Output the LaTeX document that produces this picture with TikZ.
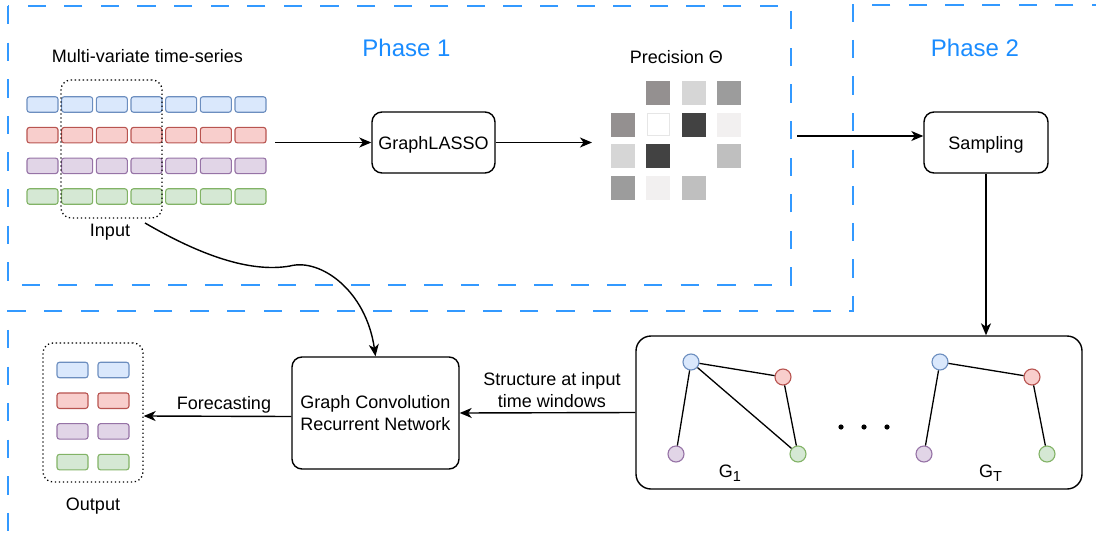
\documentclass[tikz,border=0pt]{standalone}
\usepackage{fontspec}
\setmainfont{Liberation Sans}
\usetikzlibrary{arrows.meta}
\definecolor{bfill}{HTML}{DAE8FC}\definecolor{bline}{HTML}{6C8EBF}
\definecolor{rfill}{HTML}{F8CECC}\definecolor{rline}{HTML}{B85450}
\definecolor{pfill}{HTML}{E1D5E7}\definecolor{pline}{HTML}{9673A6}
\definecolor{gfill}{HTML}{D5E8D4}\definecolor{gline}{HTML}{82B366}
\definecolor{phaseblue}{HTML}{3399FF}
\definecolor{phasetext}{HTML}{1A8CFF}
\definecolor{sqA}{HTML}{949090}
\definecolor{sqB}{HTML}{D6D6D6}
\definecolor{sqC}{HTML}{9C9C9C}
\definecolor{sqD}{HTML}{424242}
\definecolor{sqE}{HTML}{F2F0F0}
\definecolor{sqF}{HTML}{BFBFBF}
\definecolor{sqW}{HTML}{E6E6E6}
\newcommand{\mysub}[1]{\raisebox{-4.4pt}{\fontsize{14.5}{14.5}\selectfont #1}}
\begin{document}
\begin{tikzpicture}[x=1pt,y=-1pt,
  font=\fontsize{18}{22}\selectfont,
  cell/.style={draw, rounded corners=2.5, minimum width=31, minimum height=15.5, inner sep=0, line width=1.1},
  cB/.style={cell, fill=bfill, draw=bline},
  cR/.style={cell, fill=rfill, draw=rline},
  cP/.style={cell, fill=pfill, draw=pline},
  cG/.style={cell, fill=gfill, draw=gline},
  gn/.style={circle, minimum size=16, inner sep=0, line width=1.1},
  gB/.style={gn, fill=bfill, draw=bline},
  gR/.style={gn, fill=rfill, draw=rline},
  gP/.style={gn, fill=pfill, draw=pline},
  gG/.style={gn, fill=gfill, draw=gline},
  dotbox/.style={draw, dash pattern=on 1.3pt off 2.7pt, rounded corners=10, line width=1.3, inner sep=0},
  box/.style={draw, rounded corners=10, line width=1.4, align=center, inner sep=0},
  sq/.style={minimum size=24, inner sep=0, outer sep=0},
  arr/.style={line width=1.4, -{Stealth[length=12pt, width=10pt, inset=3.5pt]}},
  edge/.style={line width=1.3},
  phaseline/.style={draw=phaseblue, line width=2, dash pattern=on 18.3pt off 18.3pt},
  phase/.style={text=phasetext, font=\fontsize{24}{28}\selectfont, anchor=base, inner sep=0},
  lbl/.style={anchor=base, inner sep=0}
]
\useasboundingbox (0,0) rectangle (1096,541);

% phase regions
\draw[phaseline] (8,6) rectangle (791,285);
\draw[phaseline] (1110,4.5) -- (852.5,4.5) -- (852.5,311) -- (8,311) -- (8,550);
\node[phase] (ph1) at (406.5,56.7) {Phase 1};
\node[phase] (ph2) at (975,56.7) {Phase 2};

% input time series
\node[lbl] (tslabel) at (147.5,62.5) {Multi-variate time-series};
\foreach \r/\s in {0/cB,1/cR,2/cP,3/cG}{
  \foreach \i in {0,...,6}{
    \node[\s] (t\r\i) at ({42.5+34.67*\i},{104.5+30.67*\r}) {};
  }
}
\node[dotbox, minimum width=101, minimum height=138] (inbox) at (111.5,149) {};
\node[lbl] (inlabel) at (110,236.7) {Input};

% GraphLASSO
\node[box, minimum width=123, minimum height=61, text height=13, text depth=0] (gl) at (433.5,142.5) {GraphLASSO};

% precision matrix
\node[lbl] (preclabel) at (676.5,63.3) {Precision Θ};
\foreach \r/\c/\col in {0/1/sqA,0/2/sqB,0/3/sqC,1/0/sqA,1/2/sqD,1/3/sqE,2/0/sqB,2/1/sqD,2/3/sqF,3/0/sqC,3/1/sqE,3/2/sqF}{
  \node[sq, fill=\col] (p\r\c) at ({623+35.3*\c},{93+31.6*\r}) {};
}
\node[sq, minimum size=22.5, fill=white, draw=sqW, line width=1] (p11) at (658.3,124.6) {};

% sampling
\node[box, minimum width=124, minimum height=61, text height=13, text depth=0] (samp) at (986,142.5) {Sampling};

% graphs
\node[box, rounded corners=15, minimum width=446, minimum height=153] (gbox) at (859,412.5) {};
\node[gB] (a1) at (691,362) {};
\node[gR] (b1) at (783,377) {};
\node[gP] (c1) at (676,454) {};
\node[gG] (d1) at (798,454) {};
\node[gB] (a2) at (940,362) {};
\node[gR] (b2) at (1032,377) {};
\node[gP] (c2) at (924,454) {};
\node[gG] (d2) at (1047,454) {};
\draw[edge] (a1) -- (c1);
\draw[edge] (a1) -- (b1);
\draw[edge] (a1) -- (d1);
\draw[edge] (b1) -- (d1);
\draw[edge] (a2) -- (c2);
\draw[edge] (a2) -- (b2);
\draw[edge] (b2) -- (d2);
\node[lbl] (g1label) at (730,477.3) {G\mysub{1}};
\node[lbl] (gtlabel) at (990.5,477.3) {G\mysub{T}};
\foreach \k/\x in {1/841,2/864,3/887}{
  \node[circle, fill=black, minimum size=5.2, inner sep=0] (dot\k) at (\x,427) {};
}

% GCRN
\node[box, minimum width=167, minimum height=112] (gcrn) at (375.5,413) {Graph Convolution\\Recurrent Network};

% output
\node[dotbox, minimum width=100, minimum height=139] (obox) at (93,412.5) {};
\foreach \r/\s in {0/cB,1/cR,2/cP,3/cG}{
  \foreach \i in {0,1}{
    \node[\s] (o\r\i) at ({72.5+41*\i},{370+30.7*\r}) {};
  }
}
\node[lbl] (outlabel) at (93,510) {Output};

% connectors
\coordinate (tsout) at (275,142.5);
\coordinate (pin) at (592,142.5);
\coordinate (pout) at (797,136);
\coordinate (cstart) at (145,223);
\draw[arr] (tsout) -- (gl.west);
\draw[arr] (gl.east) -- (pin);
\draw[arr] (pout) -- (pout -| samp.west);
\draw[arr] (samp.south) -- (samp.south |- gbox.north);
\draw[arr] (gbox.west) -- (gcrn.east);
\node[align=center, inner sep=0] (structlabel) at (552,390) {Structure at input\\time windows};
\draw[arr] ([yshift=-3.5pt]gcrn.west) -- ([yshift=-3.5pt]obox.east);
\node[lbl] (forelabel) at (224,409.3) {Forecasting};
\draw[arr] (cstart) .. controls (200,255) and (250,273) .. (290,266) .. controls (320,258) and (366,290) .. (gcrn.north);
\end{tikzpicture}
\end{document}
